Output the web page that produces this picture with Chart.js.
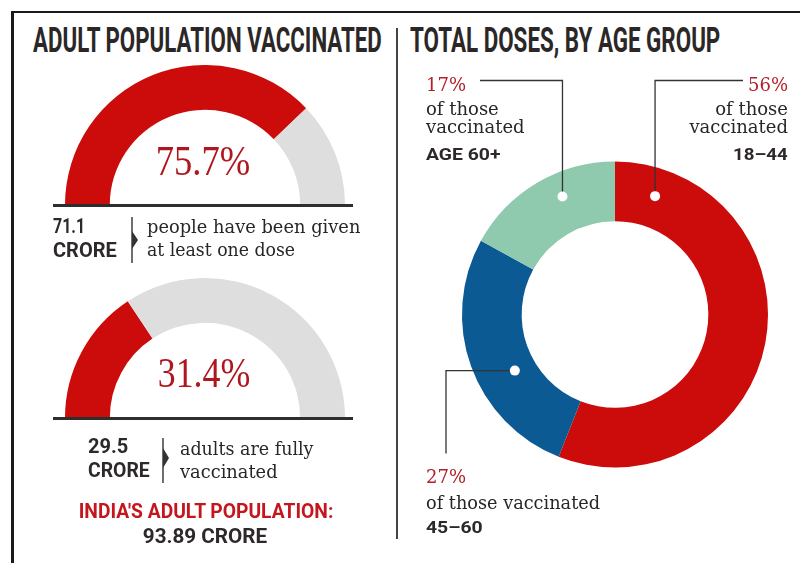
<!DOCTYPE html>
<html>
<head>
<meta charset="utf-8">
<script src="https://cdn.jsdelivr.net/npm/chart.js@4.4.0/dist/chart.umd.min.js"></script>
<style>
  html, body { margin: 0; padding: 0; background: #fff; }
  #stage { position: relative; width: 800px; height: 563px; overflow: hidden; background: #fff; }
  .line { position: absolute; background: #1a1a1a; }
  .t { position: absolute; white-space: nowrap; line-height: 1; transform-origin: 0 0; }
  .title { font-family: Roboto, sans-serif; font-weight: 700; font-size: 35px; color: #2b2727; }
  .serif { font-family: "DejaVu Serif", serif; font-size: 18px; color: #2a2626; }
  .big { font-family: "Liberation Serif", serif; font-size: 42px; color: #b0161e; }
  .bold { font-family: Roboto, sans-serif; font-weight: 700; font-size: 20px; color: #2d2929; }
  .small { font-size: 17px; }
  .red { color: #b3202a; }
  .redb { color: #c4161c; }
  .c { transform-origin: 50% 0; }
  .r { transform-origin: 100% 0; }
  .chartbox { position: absolute; }
  svg { position: absolute; left: 0; top: 0; }
</style>
</head>
<body>
<div id="stage">
  <!-- frame -->
  <div class="line" style="left:11px;top:11px;width:800px;height:2px;"></div>
  <div class="line" style="left:11px;top:11px;width:3px;height:560px;"></div>
  <!-- panel separator -->
  <div class="line" style="left:396px;top:28px;width:1.5px;height:511px;background:#444;"></div>

  <div class="t title" id="titleLeft" style="left:33px;top:22.6px;" data-w="349">ADULT POPULATION VACCINATED</div>
  <div class="t title" id="titleRight" style="left:410px;top:22.6px;" data-w="310">TOTAL DOSES, BY AGE GROUP</div>

  <!-- gauges -->
  <div class="chartbox" style="left:65px;top:65px;width:280px;height:140px;"><canvas id="gauge1"></canvas></div>
  <div class="chartbox" style="left:65px;top:278px;width:280px;height:140px;"><canvas id="gauge2"></canvas></div>
  <div class="line" style="left:53px;top:204px;width:300px;height:2.5px;background:#2e2e2e;"></div>
  <div class="line" style="left:53px;top:417px;width:300px;height:2.5px;background:#2e2e2e;"></div>

  <!-- donut -->
  <div class="chartbox" style="left:400px;top:60px;width:400px;height:500px;"><canvas id="donut"></canvas></div>

  <svg width="800" height="563">
    <g stroke="#333" stroke-width="1.4" fill="#333">
      <line x1="132" y1="217" x2="132" y2="263"/>
      <polygon points="132,231 138,240 132,249" stroke="none"/>
      <line x1="163" y1="438" x2="163" y2="483"/>
      <polygon points="163,448 169,458 163,468" stroke="none"/>
    </g>
  </svg>

  <div id="labels"></div>
</div>

<script>
// ---------------- DATA ----------------
const gaugeSegments = ['Vaccinated', 'Not vaccinated'];
const atLeastOneDose = [75.7, 24.3];   // % of adult population
const fullyVaccinated = [31.4, 68.6];  // % of adult population
const croreValues = ['71.1', '29.5'];
const adultPopulationCrore = '93.89';

const ageGroups = ['18–44', '45–60', 'AGE 60+'];
const doseShare = [56, 27, 17];        // % of total doses

// ---------------- STYLE ----------------
const RED = '#cc0b0b';
const GREY = '#dedede';
const ageColors = ['#cc0b0b', '#0b5a93', '#8fc9ae'];

// ---------------- TEXT ----------------
const labels = [
  // gauge 1
  {cls:'big c', x:203, top:139.8, w:95, text: atLeastOneDose[0] + '%', align:'c'},
  {cls:'bold', x:53, top:216.2, w:32, text: croreValues[0]},
  {cls:'bold', x:53, top:240.2, w:64, text: 'CRORE'},
  {cls:'serif', x:147, top:217.9, w:213, text: 'people have been given'},
  {cls:'serif', x:147, top:240.9, w:148, text: 'at least one dose'},
  // gauge 2
  {cls:'big c', x:203.5, top:351.8, w:93, text: fullyVaccinated[0] + '%', align:'c'},
  {cls:'bold', x:88, top:435.9, w:40, text: croreValues[1]},
  {cls:'bold', x:88, top:459.9, w:62, text: 'CRORE'},
  {cls:'serif', x:180, top:439.9, w:133, text: 'adults are fully'},
  {cls:'serif', x:180, top:462.9, w:98, text: 'vaccinated'},
  {cls:'bold redb c', x:205.5, top:501.2, w:255, text: "INDIA'S ADULT POPULATION:", align:'c'},
  {cls:'bold c', x:205, top:526.2, w:124, text: adultPopulationCrore + ' CRORE', align:'c'},
  // donut: 60+
  {cls:'serif red', x:426, top:75.9, text: doseShare[2] + '%'},
  {cls:'serif', x:426, top:99.9, text: 'of those'},
  {cls:'serif', x:426, top:117.9, text: 'vaccinated'},
  {cls:'bold small', x:426, top:145.6, w:74, text: ageGroups[2]},
  // donut: 18-44
  {cls:'serif red r', x:788, top:75.9, text: doseShare[0] + '%', align:'r'},
  {cls:'serif r', x:788, top:99.9, text: 'of those', align:'r'},
  {cls:'serif r', x:788, top:117.9, text: 'vaccinated', align:'r'},
  {cls:'bold small r', x:788, top:145.6, w:55, text: ageGroups[0], align:'r'},
  // donut: 45-60
  {cls:'serif red', x:426, top:467.6, text: doseShare[1] + '%'},
  {cls:'serif', x:426, top:493.9, w:174, text: 'of those vaccinated'},
  {cls:'bold small', x:426, top:518.7, w:57, text: ageGroups[1]},
];

const holder = document.getElementById('labels');
labels.forEach(L => {
  const el = document.createElement('div');
  el.className = 't ' + L.cls;
  el.textContent = L.text;
  el.style.top = L.top + 'px';
  if (L.align === 'r') el.style.right = (800 - L.x) + 'px';
  else el.style.left = L.x + 'px';
  if (L.w) el.dataset.w = L.w;
  if (L.align) el.dataset.align = L.align;
  holder.appendChild(el);
});

function fitAll() {
  document.querySelectorAll('[data-w]').forEach(el => {
    const s = parseFloat(el.dataset.w) / el.offsetWidth;
    if (el.dataset.align === 'c') el.style.transform = 'translateX(-50%) scaleX(' + s + ')';
    else el.style.transform = 'scaleX(' + s + ')';
  });
  document.querySelectorAll('.t.c:not([data-w])').forEach(el => {
    el.style.transform = 'translateX(-50%)';
  });
}
fitAll();

// ---------------- CHARTS ----------------
Chart.defaults.animation = false;
Chart.defaults.events = [];
Chart.defaults.plugins.legend.display = false;
Chart.defaults.plugins.tooltip.enabled = false;

function gauge(id, values) {
  new Chart(document.getElementById(id), {
    type: 'doughnut',
    data: {
      labels: gaugeSegments,
      datasets: [{ data: values, backgroundColor: [RED, GREY], borderWidth: 0 }]
    },
    options: {
      responsive: true,
      maintainAspectRatio: false,
      rotation: -90,
      circumference: 180,
      cutout: '68%',
      layout: { padding: 0 }
    }
  });
}
gauge('gauge1', atLeastOneDose);
gauge('gauge2', fullyVaccinated);

// leader lines: slice index, angle (deg clockwise from top), radial fraction, path steps (layout offsets from centre)
const leaders = [
  { slice: 2, angle: 336, rf: 0.6,  path: [['v', -234], ['h', -135]] },
  { slice: 0, angle: 18.7, rf: 0.53, path: [['v', -234], ['h', 128]] },
  { slice: 1, angle: 240.75, rf: 0.36, path: [['h', -169], ['v', 139]] },
];

const leaderPlugin = {
  id: 'leaders',
  afterDatasetsDraw(chart) {
    const arc = chart.getDatasetMeta(0).data[0];
    const cx = arc.x, cy = arc.y, ro = arc.outerRadius, ri = arc.innerRadius;
    const ctx = chart.ctx;
    ctx.save();
    leaders.forEach(L => {
      const a = (L.angle - 90) * Math.PI / 180;
      const r = ri + (ro - ri) * L.rf;
      const px = cx + r * Math.cos(a), py = cy + r * Math.sin(a);
      ctx.beginPath();
      ctx.moveTo(px, py);
      let x = px, y = py;
      L.path.forEach(([d, v]) => {
        if (d === 'v') y = cy + v; else x = cx + v;
        ctx.lineTo(x, y);
      });
      ctx.strokeStyle = '#333';
      ctx.lineWidth = 1.3;
      ctx.stroke();
      ctx.beginPath();
      ctx.arc(px, py, 5, 0, Math.PI * 2);
      ctx.fillStyle = '#fff';
      ctx.fill();
    });
    ctx.restore();
  }
};

new Chart(document.getElementById('donut'), {
  type: 'doughnut',
  data: {
    labels: ageGroups,
    datasets: [{ data: doseShare, backgroundColor: ageColors, borderWidth: 0 }]
  },
  options: {
    responsive: true,
    maintainAspectRatio: false,
    cutout: '61%',
    layout: { padding: { left: 62, right: 32, top: 101.5, bottom: 92.5 } }
  },
  plugins: [leaderPlugin]
});
</script>
</body>
</html>
